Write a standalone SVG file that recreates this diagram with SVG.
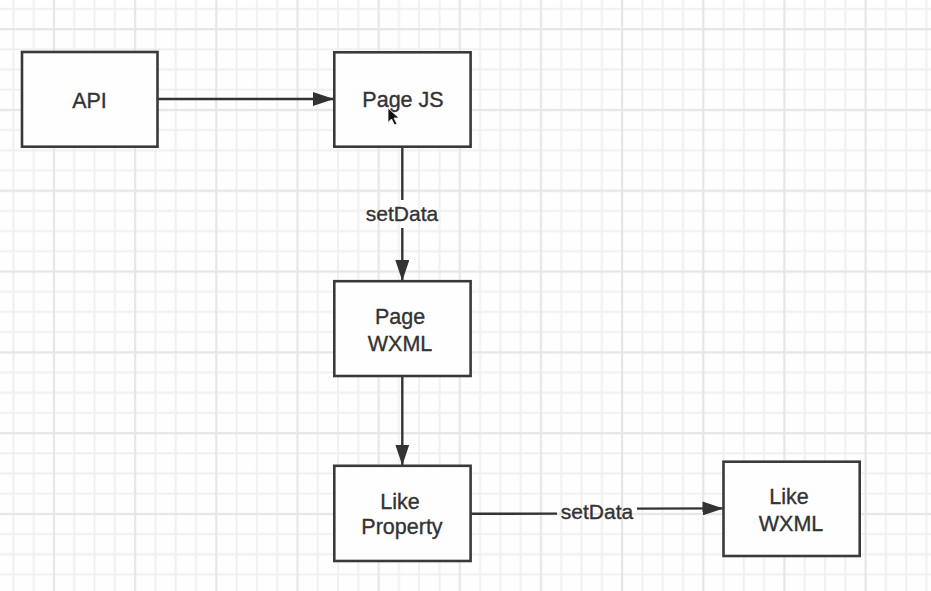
<svg xmlns="http://www.w3.org/2000/svg" width="931" height="591" viewBox="0 0 931 591">
<style>
.box{fill:#fefefe;stroke:#3a3a3a;stroke-width:2.6}
.lbl{font-family:"Liberation Sans",Arial,sans-serif;font-size:21.5px;fill:#333;stroke:#333;stroke-width:0.35;text-anchor:middle}
.elbl{font-family:"Liberation Sans",Arial,sans-serif;font-size:21px;fill:#333;stroke:#333;stroke-width:0.35;text-anchor:middle}
.edge{stroke:#333;stroke-width:2.4;fill:none}
.minor{stroke:#f0f0f0;stroke-width:2}
.major{stroke:#e6e6e6;stroke-width:2.2}
</style>
<defs>
<pattern id="grid" patternUnits="userSpaceOnUse" x="44" y="19.1" width="81.16" height="80.8">
<line class="minor" x1="30.29" y1="0" x2="30.29" y2="80.8"/>
<line class="minor" x1="50.58" y1="0" x2="50.58" y2="80.8"/>
<line class="minor" x1="70.87" y1="0" x2="70.87" y2="80.8"/>
<line class="minor" x1="0" y1="30.2" x2="81.16" y2="30.2"/>
<line class="minor" x1="0" y1="50.4" x2="81.16" y2="50.4"/>
<line class="minor" x1="0" y1="70.6" x2="81.16" y2="70.6"/>
<line class="major" x1="10" y1="0" x2="10" y2="80.8"/>
<line class="major" x1="0" y1="10" x2="81.16" y2="10"/>
</pattern>
<marker id="arr" markerWidth="22" markerHeight="14" refX="21" refY="7" orient="auto" markerUnits="userSpaceOnUse">
<path d="M0,0 L21,7 L0,14 Z" fill="#333"/>
</marker>
</defs>
<rect x="0" y="0" width="931" height="591" fill="#fefefe"/>
<rect x="0" y="0" width="931" height="591" fill="url(#grid)"/>

<g id="connectors">
<line class="edge" x1="158" y1="99" x2="334" y2="99" marker-end="url(#arr)"/>
<line class="edge" x1="402.3" y1="147" x2="402.3" y2="200"/>
<line class="edge" x1="402.3" y1="228" x2="402.3" y2="281" marker-end="url(#arr)"/>
<text class="elbl" x="402" y="221">setData</text>
<line class="edge" x1="471" y1="513.8" x2="557" y2="513.6"/>
<line class="edge" x1="637" y1="508.6" x2="723.5" y2="508.4" marker-end="url(#arr)"/>
<text class="elbl" x="597" y="519">setData</text>
<line class="edge" x1="402.3" y1="376" x2="402.3" y2="465.5" marker-end="url(#arr)"/>
</g>

<g id="api">
<rect class="box" x="22" y="52" width="135.5" height="94.7"/>
<text class="lbl" x="89.5" y="108">API</text>
</g>
<g id="page-js">
<rect class="box" x="334.3" y="52.3" width="136.3" height="94.4"/>
<text class="lbl" x="403" y="107">Page JS</text>
<path d="M388,108 L388,122.5 L391.5,119 L394.5,125 L397,124 L394,118 L399,118 Z" fill="#111" stroke="#fff" stroke-width="0.8"/>
</g>
<g id="page-wxml">
<rect class="box" x="334.3" y="281.2" width="136.3" height="94.8"/>
<text class="lbl" x="400" y="323.5">Page</text>
<text class="lbl" x="400" y="351">WXML</text>
</g>
<g id="like-property">
<rect class="box" x="334.3" y="465.8" width="136.3" height="95.2"/>
<text class="lbl" x="400" y="509">Like</text>
<text class="lbl" x="402" y="534">Property</text>
</g>
<g id="like-wxml">
<rect class="box" x="723.5" y="461.7" width="136.2" height="94.3"/>
<text class="lbl" x="789" y="503.5">Like</text>
<text class="lbl" x="791" y="531">WXML</text>
</g>
</svg>
